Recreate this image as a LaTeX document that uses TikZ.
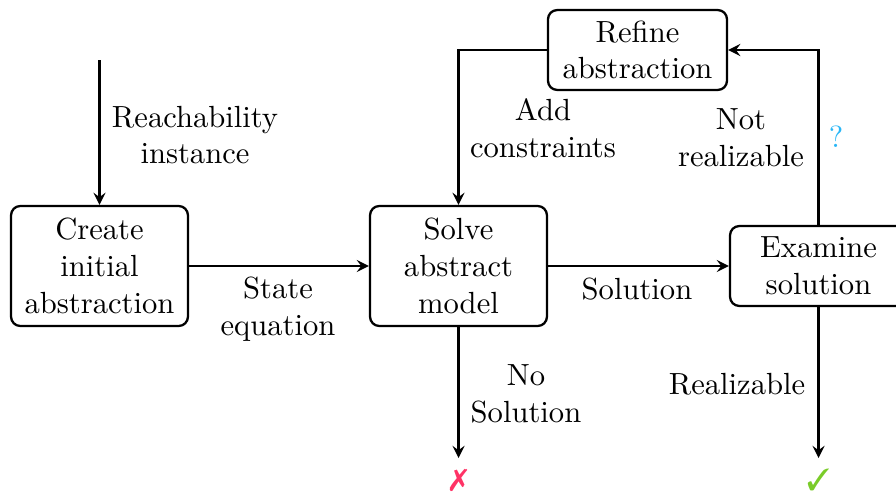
\documentclass[tikz,border=0pt]{standalone}
\usepackage{pifont}
\usetikzlibrary{positioning}
\definecolor{qcyan}{RGB}{41,182,246}
\definecolor{nored}{RGB}{255,51,102}
\definecolor{okgreen}{RGB}{122,204,41}
\begin{document}
\begin{tikzpicture}[x=0.3268pt,y=-0.3268pt,
  >=stealth,
  box/.style={draw,line width=0.75pt,rounded corners=3pt,align=center,
    minimum width=57.8pt,inner sep=0pt},
  tall/.style={box,minimum height=39.2pt},
  flat/.style={box,minimum height=26.1pt},
  flow/.style={->,line width=0.75pt},
  lbl/.style={align=center,inner sep=0pt}]
\useasboundingbox (0,0) rectangle (896,495);

% process boxes
\node[tall] (create) at (99.5,266) {Create\\initial\\abstraction};
\node[tall] (solve) at (458.5,266) {Solve\\abstract\\model};
\node[flat] (exam) at (818.5,266) {Examine\\solution};
\node[flat,minimum width=58.5pt] (refine) at (637.5,50) {Refine\\abstraction};

% outcomes
\node[inner sep=3.5pt,anchor=north,text=nored] (fail) at (458.5,458) {\ding{55}};
\node[inner sep=3.5pt,anchor=north,text=okgreen] (ok) at (818.5,458) {\ding{51}};

% entry point
\coordinate (start) at (99.5,60);

% connectors
\draw[flow] (start) -- (create.north);
\draw[flow] (create.east) -- (solve.west);
\draw[flow] (solve.east) -- (exam.west);
\draw[flow] (exam.north) |- (refine.east);
\draw[flow] (refine.west) -| (solve.north);
\draw[flow] (solve.south) -- (fail.north);
\draw[flow] (exam.south) -- (ok.north);

% labels
\node[lbl] (l1) at (195,135) {Reachability\\instance};
\node[lbl] (l2) at (278,309) {State\\equation};
\node[lbl] (l3) at (637,289) {Solution};
\node[lbl] (l4) at (543,128) {Add\\constraints};
\node[lbl] (l5) at (741,138) {Not\\realizable};
\node[lbl,text=qcyan] (l6) at (836,137) {?};
\node[lbl] (l7) at (526,394) {No\\Solution};
\node[lbl] (l8) at (737,384) {Realizable};
\end{tikzpicture}
\end{document}
